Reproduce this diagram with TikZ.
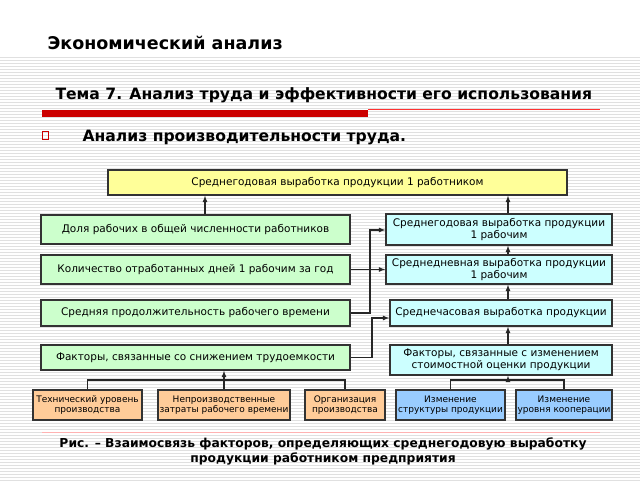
\documentclass[tikz,border=0pt]{standalone}
\usepackage{fontspec}
\setmainfont{DejaVu Sans}
\usetikzlibrary{arrows,positioning}
\definecolor{yel}{HTML}{FFFF99}
\definecolor{grn}{HTML}{CCFFCC}
\definecolor{cyn}{HTML}{CCFFFF}
\definecolor{org}{HTML}{FFCC99}
\definecolor{blu}{HTML}{99CCFF}
\definecolor{redbar}{HTML}{CC0000}
\begin{document}
\begin{tikzpicture}[
    x=1pt, y=-1pt,
    box/.style={draw=black!80, line width=1.4pt, inner sep=1pt, align=center, font=\fontsize{10.5}{12}\selectfont},
    small/.style={box, font=\fontsize{9}{10.5}\selectfont},
    arrow/.style={->, >=latex, line width=1.2pt, black!85}
]
\useasboundingbox (0,0) rectangle (640,480);
% background stripes
\foreach \y in {57,60,...,480}
  \draw[black!12, line width=0.5pt] (0,\y) -- (640,\y);
% headings
\node[anchor=west, font=\fontsize{17.5}{20}\selectfont\bfseries] (head) at (44,43) {Экономический анализ};
\node[anchor=west, font=\fontsize{15.6}{18}\selectfont\bfseries] (topic) at (52,95) {Тема 7. Анализ труда и эффективности его использования};
\fill[redbar] (42,110) rectangle (368,117);
\draw[red!80, line width=0.6pt] (368,109.5) -- (600,109.5);
\draw[red!80!black, line width=1pt] (42,131) rectangle (48,139);
\node[anchor=west, font=\fontsize{15.6}{18}\selectfont\bfseries] (bullet) at (79,137) {Анализ производительности труда.};

% Nodes for the factors
\node[box, fill=yel, minimum width=459, minimum height=25] (top) at (337.5,182.5) {Среднегодовая выработка продукции 1 работником};
\node[box, fill=grn, minimum width=309, minimum height=29] (g1) at (195.5,229.5) {Доля рабочих в общей численности работников};
\node[box, fill=grn, minimum width=309, minimum height=29] (g2) at (195.5,269.5) {Количество отработанных дней 1 рабочим за год};
\node[box, fill=grn, minimum width=309, minimum height=26] (g3) at (195.5,313) {Средняя продолжительность рабочего времени};
\node[box, fill=grn, minimum width=309, minimum height=25] (g4) at (195.5,357.5) {Факторы, связанные со снижением трудоемкости};
\node[box, fill=cyn, minimum width=226, minimum height=31] (c1) at (499,229.5) {Среднегодовая выработка продукции\\1 рабочим};
\node[box, fill=cyn, minimum width=226, minimum height=29] (c2) at (499,269.5) {Среднедневная выработка продукции\\1 рабочим};
\node[box, fill=cyn, minimum width=222, minimum height=26] (c3) at (501,313) {Среднечасовая выработка продукции};
\node[box, fill=cyn, minimum width=222, minimum height=30] (c4) at (501,360) {Факторы, связанные с изменением\\стоимостной оценки продукции};
\node[small, fill=org, minimum width=109, minimum height=30] (o1) at (87.5,405) {Технический уровень\\производства};
\node[small, fill=org, minimum width=132, minimum height=30] (o2) at (224,405) {Непроизводственные\\затраты рабочего времени};
\node[small, fill=org, minimum width=80, minimum height=30] (o3) at (345,405) {Организация\\производства};
\node[small, fill=blu, minimum width=109, minimum height=30] (b1) at (450.5,405) {Изменение\\структуры продукции};
\node[small, fill=blu, minimum width=96, minimum height=30] (b2) at (564,405) {Изменение\\уровня кооперации};

% caption
\draw[red!30, line width=0.8pt] (42,432) -- (600,432);
\node[font=\fontsize{12.3}{15}\selectfont\bfseries, align=center] (cap) at (323,451) {Рис. – Взаимосвязь факторов, определяющих среднегодовую выработку\\продукции работником предприятия};

% Arrows connecting the factors
\coordinate (k1) at (370,230);
\coordinate (k2) at (372,318);
\coordinate (j1) at (224,380);
\coordinate (j2) at (508,380);
\draw[arrow] (g1.north -| 205,0) -- (top.south -| 205,0);
\draw[arrow] (c1.north -| 508,0) -- (top.south -| 508,0);
\draw[arrow] (c2.north -| 508,0) -- (c1.south -| 508,0);
\draw[arrow] (c3.north -| 508,0) -- (c2.south -| 508,0);
\draw[arrow] (c4.north -| 508,0) -- (c3.south -| 508,0);
\draw[arrow] (g2.east) -- (g2.east -| c2.west);
\draw[arrow] (g3.east) -| (k1) -- (k1 -| c1.west);
\draw[arrow] (g4.east) -| (k2) -- (k2 -| c3.west);
\draw[line width=1.2pt, black!85] (o1.north) |- (o3.north |- j1) -- (o3.north);
\draw[arrow] (o2.north) -- (o2.north |- g4.south);
\draw[line width=1.2pt, black!85] (b1.north) |- (b2.north |- j2) -- (b2.north);
\draw[arrow] (j2) -- (c4.south -| j2);
\end{tikzpicture}
\end{document}
